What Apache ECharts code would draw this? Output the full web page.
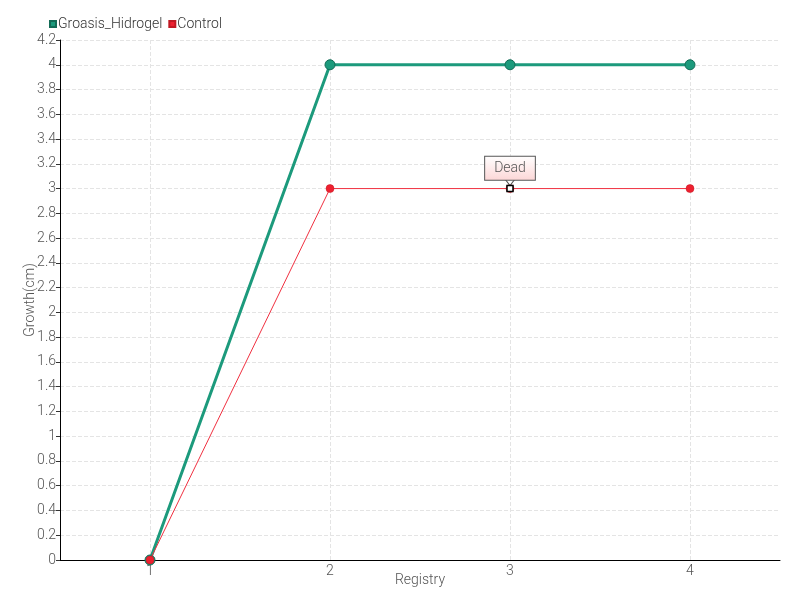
<!DOCTYPE html>
<html><head><meta charset="utf-8">
<script src="https://cdn.jsdelivr.net/npm/echarts@6/dist/echarts.min.js"></script>
<style>html,body{margin:0;padding:0;background:#fff}#c{width:800px;height:600px}</style>
</head><body><div id="c"></div>
<script>
const categories = ['1', '2', '3', '4'];
const hidrogel = [0, 4, 4, 4];
const control = [0, 3, 3, 3];
const deadIndex = 2;
const deadLabel = 'Dead';

const FONT = 'Roboto, sans-serif';
const chart = echarts.init(document.getElementById('c'));
chart.setOption({
  animation: false,
  textStyle: { fontFamily: FONT },
  legend: {
    left: 44, top: 12, itemWidth: 6, itemHeight: 6, itemGap: 6,
    icon: 'rect',
    textStyle: { fontFamily: FONT, fontSize: 14, fontWeight: 300, color: '#333', padding: [0, 0, 0, -3] },
    data: ['Groasis_Hidrogel', 'Control']
  },
  grid: { left: 60, right: 20, top: 40, bottom: 40, outerBoundsMode: 'none', containLabel: false },
  xAxis: {
    type: 'category', data: categories, boundaryGap: true,
    name: 'Registry', nameLocation: 'middle', nameGap: 13, nameMoveOverlap: false,
    nameTextStyle: { fontFamily: FONT, fontSize: 14, fontWeight: 300, color: '#555' },
    axisLine: { lineStyle: { color: '#000' } },
    axisTick: { alignWithLabel: true, lineStyle: { color: '#333' } },
    axisLabel: { fontFamily: FONT, fontSize: 14, fontWeight: 300, color: '#555', margin: 4 },
    splitLine: { show: true, alignWithLabel: true, lineStyle: { color: '#e4e4e4', type: 'dashed' } }
  },
  yAxis: {
    type: 'value', min: 0, max: 4.2, interval: 0.2,
    name: 'Growth(cm)', nameLocation: 'middle', nameGap: 23, nameMoveOverlap: false,
    nameTextStyle: { fontFamily: FONT, fontSize: 14, fontWeight: 300, color: '#555' },
    axisLine: { show: true, lineStyle: { color: '#000' } },
    axisTick: { show: true, length: 4, lineStyle: { color: '#333' } },
    axisLabel: { fontFamily: FONT, fontSize: 14, fontWeight: 300, color: '#555', margin: 4,
      formatter: v => String(parseFloat(v.toFixed(1))) },
    splitLine: { show: true, lineStyle: { color: '#e4e4e4', type: 'dashed' } }
  },
  series: [
    {
      name: 'Groasis_Hidrogel', type: 'line', data: hidrogel,
      symbol: 'circle', symbolSize: 10,
      lineStyle: { width: 3, color: '#1c9a7c' },
      itemStyle: { color: '#1c9a7c', borderColor: '#136b56', borderWidth: 1 },
      z: 2
    },
    {
      name: 'Control', type: 'line', data: control,
      symbol: 'circle', symbolSize: 8,
      lineStyle: { width: 1, color: '#f03040' },
      itemStyle: { color: '#ee2030', borderColor: '#c01822', borderWidth: 0.5 },
      z: 3,
      markPoint: {
        data: [
          { coord: [deadIndex, control[deadIndex]], symbol: 'triangle', symbolRotate: 180,
            symbolSize: [9, 6], symbolOffset: [0, -6],
            itemStyle: { color: '#fff', borderColor: '#555', borderWidth: 1 },
            label: { show: false } },
          { coord: [deadIndex, control[deadIndex]], symbol: 'rect', symbolSize: 6,
            itemStyle: { color: '#fff', borderColor: '#000', borderWidth: 1.5 },
            label: {
              show: true, position: 'top', distance: 5, formatter: deadLabel,
              fontFamily: FONT, fontSize: 14, fontWeight: 300, color: '#555',
              padding: [5, 9, 4, 9], borderColor: '#555', borderWidth: 1,
              backgroundColor: new echarts.graphic.LinearGradient(0, 0, 0, 1, [
                { offset: 0, color: '#ffffff' }, { offset: 1, color: '#fcd6d6' }])
            } }
        ]
      }
    }
  ]
});
</script></body></html>
